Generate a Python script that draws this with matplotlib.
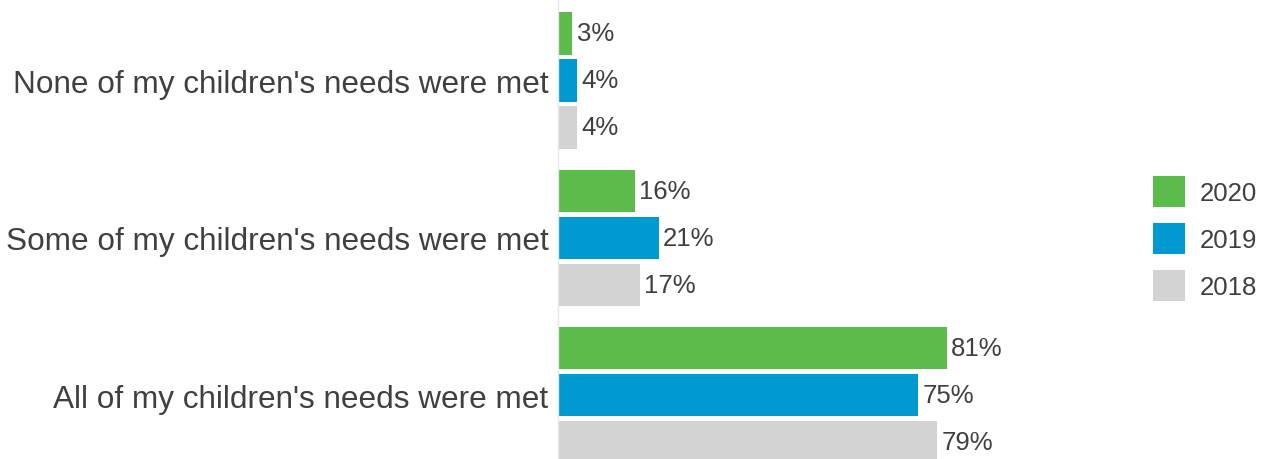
import matplotlib.pyplot as plt
import numpy as np

plt.rcParams['font.family'] = ['Liberation Sans', 'DejaVu Sans']

categories = ["None of my children's needs were met",
              "Some of my children's needs were met",
              "All of my children's needs were met"]
years = ['2020', '2019', '2018']
v2020 = [3, 16, 81]
v2019 = [4, 21, 75]
v2018 = [4, 17, 79]

colors = ['#5BBB4B', '#0099D0', '#D3D3D3']
txt = '#404040'

fig = plt.figure(figsize=(12.69, 4.6), dpi=100)
ax = fig.add_axes([558 / 1269, 0, 480 / 1269, 1])

group_gap = 3.35
bar_h = 0.894
g = np.arange(len(categories)) * group_gap

handles = []
for j, (vals, yr) in enumerate(zip([v2020, v2019, v2018], years)):
    bars = ax.barh(g + j, vals, height=bar_h, color=colors[j], label=yr)
    ax.bar_label(bars, labels=[f'{v}%' for v in vals], padding=3,
                 fontsize=18.5, color=txt)
    handles.append(bars)

top = -0.734
ax.set_xlim(0, 100)
ax.set_ylim(top + 460 / 47, top)
ax.set_yticks(g + 1)
ax.set_yticklabels(categories, fontsize=22.7, color=txt)
ax.tick_params(axis='y', length=0, pad=7)
ax.set_xticks([])
for s in ['top', 'right', 'bottom']:
    ax.spines[s].set_visible(False)
ax.spines['left'].set_color('#e8e8e8')
ax.spines['left'].set_linewidth(1)

fig.legend(handles=handles, labels=years, loc='upper left',
           bbox_to_anchor=(1153 / 1269, 1 - 177 / 460), frameon=False,
           fontsize=18.5, labelcolor=txt, handlelength=1.25, handleheight=1.48,
           handletextpad=0.58, labelspacing=0.62, borderpad=0, borderaxespad=0)

fig.savefig('out.png', dpi=100)
